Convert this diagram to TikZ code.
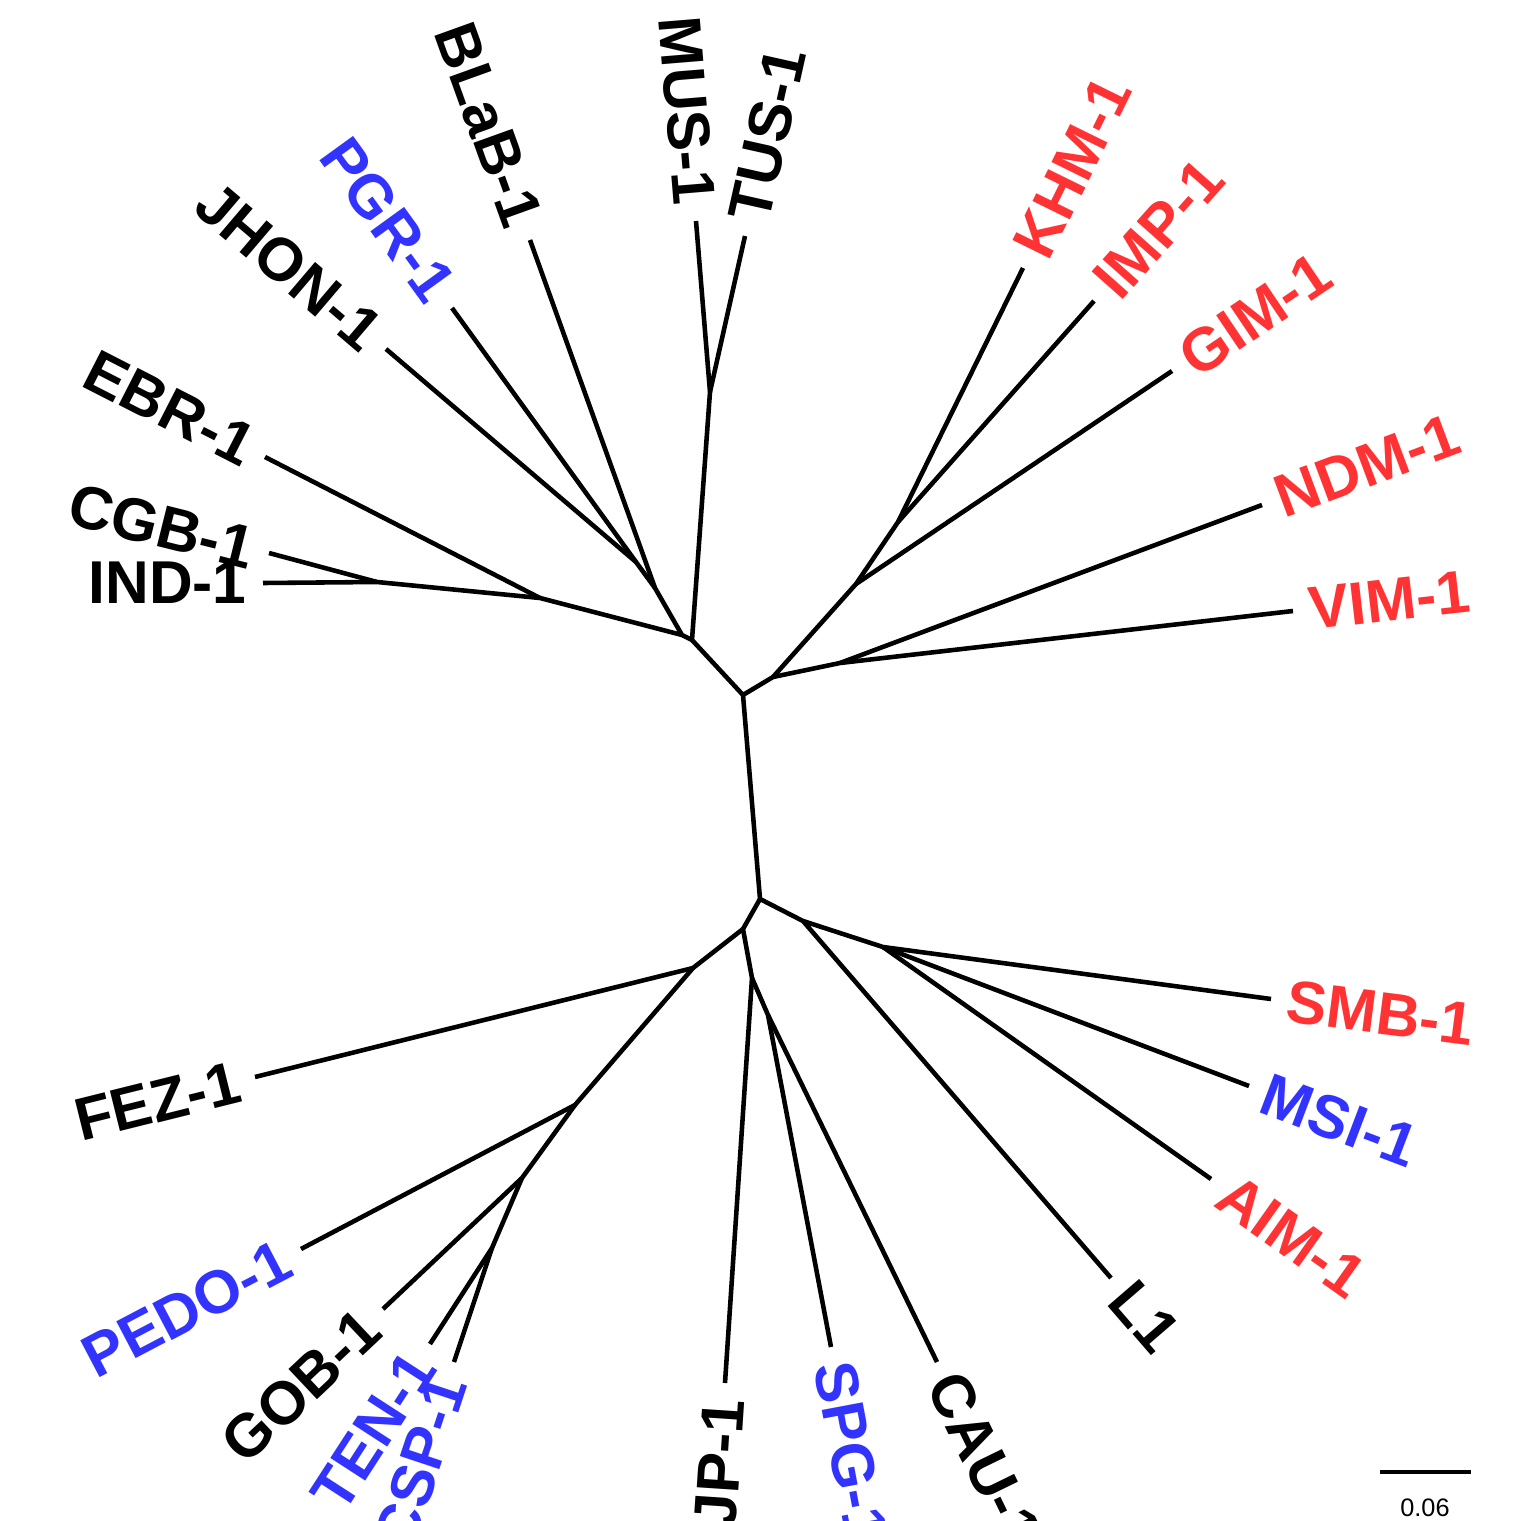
\documentclass[tikz,border=0pt]{standalone}
\usepackage{fontspec}
\setmainfont{Liberation Sans}
\usepackage{tikz}
\definecolor{mbred}{RGB}{255,51,51}
\definecolor{mbblue}{RGB}{51,51,255}

\begin{document}
\begin{tikzpicture}[x=0.01cm, y=-0.01cm, line width=1.3pt,
lbl/.style={font=\fontsize{17.2}{19}\selectfont\bfseries, inner xsep=4pt, inner ysep=0pt},
lout/.style={lbl, anchor=west},
linw/.style={lbl, anchor=east},
rd/.style={text=mbred},
bl/.style={text=mbblue}]
\clip (0,0) rectangle (1529,1521);
% inner nodes
\coordinate (H) at (692,640);
\coordinate (hl) at (682,635);
\coordinate (bb) at (655,588);
\coordinate (jp) at (636,562);
\coordinate (eb) at (540,598);
\coordinate (ci) at (377,582);
\coordinate (mt) at (710,392);
\coordinate (U) at (743,695);
\coordinate (R) at (773,677);
\coordinate (G) at (856,584);
\coordinate (ki) at (898,522);
\coordinate (nv) at (840,663);
\coordinate (L) at (760,899);
\coordinate (lr) at (803,921);
\coordinate (sa) at (883,947);
\coordinate (ld) at (743,929);
\coordinate (js) at (752,978);
\coordinate (sc) at (768,1015);
\coordinate (F) at (693,968);
\coordinate (P) at (575,1105);
\coordinate (gb) at (522,1178);
\coordinate (tc) at (492,1248);
% tips
\coordinate (tMUS) at (696,221);
\coordinate (tTUS) at (745,236);
\coordinate (tBLaB) at (530,240);
\coordinate (tPGR) at (452,308);
\coordinate (tJHON) at (386,349);
\coordinate (tEBR) at (265,457);
\coordinate (tCGB) at (269,553);
\coordinate (tIND) at (263,583);
\coordinate (tKHM) at (1023,268);
\coordinate (tIMP) at (1094,301);
\coordinate (tGIM) at (1172,371);
\coordinate (tNDM) at (1262,505);
\coordinate (tVIM) at (1293,611);
\coordinate (tSMB) at (1271,999);
\coordinate (tMSI) at (1249,1086);
\coordinate (tAIM) at (1211,1179);
\coordinate (tL1) at (1111,1278);
\coordinate (tCAU) at (937,1362);
\coordinate (tSPG) at (831,1347);
\coordinate (tJP) at (725,1383);
\coordinate (tCSP) at (454,1362);
\coordinate (tTEN) at (430,1344);
\coordinate (tGOB) at (383,1309);
\coordinate (tPEDO) at (301,1249);
\coordinate (tFEZ) at (255,1077);

% branches
\draw (H) -- (hl) -- (bb) -- (jp) -- (tJHON);
\draw (jp) -- (tPGR);
\draw (bb) -- (tBLaB);
\draw (hl) -- (eb) -- (ci) -- (tIND);
\draw (eb) -- (tEBR);
\draw (ci) -- (tCGB);
\draw (H) -- (mt) -- (tMUS);
\draw (mt) -- (tTUS);
\draw (H) -- (U) -- (R) -- (G) -- (ki) -- (tKHM);
\draw (ki) -- (tIMP);
\draw (G) -- (tGIM);
\draw (R) -- (nv) -- (tVIM);
\draw (nv) -- (tNDM);
\draw (U) -- (L) -- (lr) -- (tL1);
\draw (lr) -- (sa) -- (tSMB);
\draw (sa) -- (tMSI);
\draw (sa) -- (tAIM);
\draw (L) -- (ld) -- (js) -- (tJP);
\draw (js) -- (sc) -- (tSPG);
\draw (sc) -- (tCAU);
\draw (ld) -- (F) -- (tFEZ);
\draw (F) -- (P) -- (tPEDO);
\draw (P) -- (gb) -- (tGOB);
\draw (gb) -- (tc) -- (tTEN);
\draw (tc) -- (tCSP);

% labels
\node[linw, rotate=-85.3] (nMUS) at (tMUS) {MUS-1};
\node[lout, rotate=77.4] (nTUS) at (tTUS) {TUS-1};
\node[linw, rotate=-70.2] (nBLaB) at (tBLaB) {BLaB-1};
\node[linw, bl, rotate=-54.1] (nPGR) at (tPGR) {PGR-1};
\node[linw, rotate=-40.4] (nJHON) at (tJHON) {JHON-1};
\node[linw, rotate=-27.1] (nEBR) at (tEBR) {EBR-1};
\node[linw, rotate=-14] (nCGB) at (tCGB) {CGB-1};
\node[linw] (nIND) at (tIND) {IND-1};
\node[lout, rd, rotate=63.8] (nKHM) at (tKHM) {KHM-1};
\node[lout, rd, rotate=48.4] (nIMP) at (tIMP) {IMP-1};
\node[lout, rd, rotate=34] (nGIM) at (tGIM) {GIM-1};
\node[lout, rd, rotate=20.5] (nNDM) at (tNDM) {NDM-1};
\node[lout, rd, rotate=6.5] (nVIM) at (tVIM) {VIM-1};
\node[lout, rd, rotate=-7.3] (nSMB) at (tSMB) {SMB-1};
\node[lout, bl, rotate=-20.8] (nMSI) at (tMSI) {MSI-1};
\node[lout, rd, rotate=-35.3] (nAIM) at (tAIM) {AIM-1};
\node[lout, rotate=-49.2] (nL1) at (tL1) {L1};
\node[lout, rotate=-64] (nCAU) at (tCAU) {CAU-1};
\node[lout, bl, rotate=-79.3] (nSPG) at (tSPG) {SPG-1};
\node[linw, rotate=86.2] (nJP) at (tJP) {JP-1};
\node[linw, bl, rotate=71.6] (nCSP) at (tCSP) {CSP-1};
\node[linw, bl, rotate=57.1] (nTEN) at (tTEN) {TEN-1};
\node[linw, rotate=43.3] (nGOB) at (tGOB) {GOB-1};
\node[linw, bl, rotate=27.7] (nPEDO) at (tPEDO) {PEDO-1};
\node[linw, rotate=14] (nFEZ) at (tFEZ) {FEZ-1};

% scale bar
\coordinate (sb1) at (1380,1472);
\coordinate (sb2) at (1471,1472);
\draw[line width=0.9pt] (sb1) -- (sb2);
\node[font=\fontsize{7.2}{8}\selectfont, inner sep=0pt] (sbl) at (1425,1508) {0.06};
\end{tikzpicture}
\end{document}
